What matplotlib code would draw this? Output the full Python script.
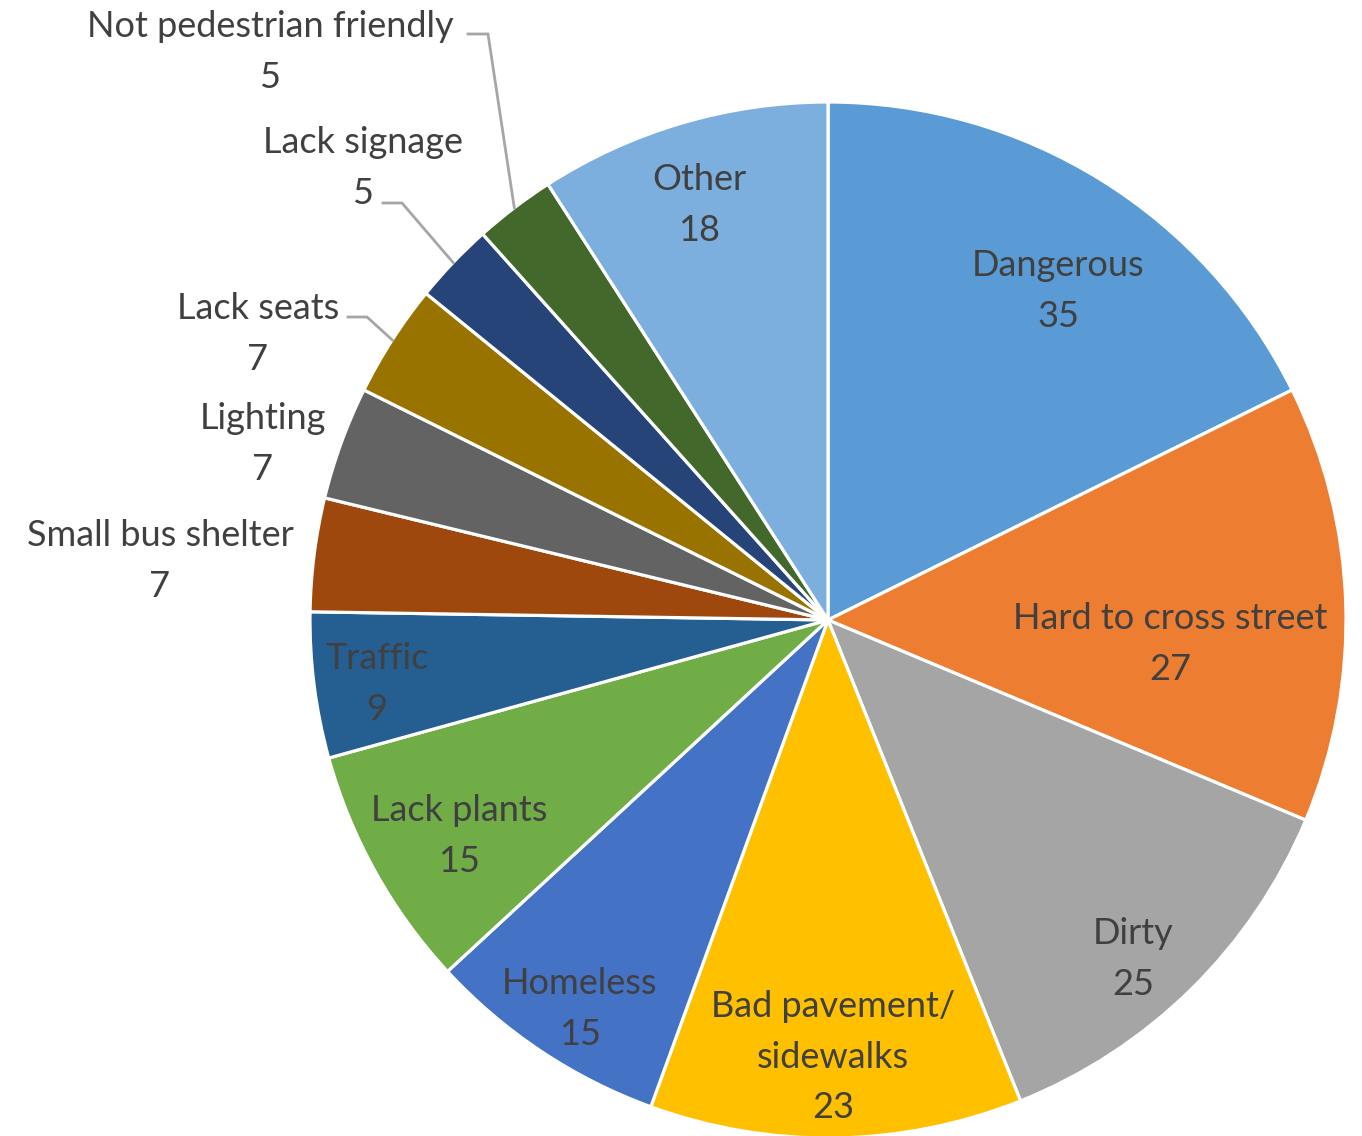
"""Pie chart: pedestrian / bus stop complaints, Excel-like style."""

import matplotlib

matplotlib.use("Agg")
import matplotlib.pyplot as plt
import numpy as np

# data (clockwise from 12 o'clock)
categories = [
    "Dangerous", "Hard to cross street", "Dirty", "Bad pavement/\nsidewalks",
    "Homeless", "Lack plants", "Traffic", "Small bus shelter", "Lighting",
    "Lack seats", "Lack signage", "Not pedestrian friendly", "Other",
]
counts = [35, 27, 25, 23, 15, 15, 9, 7, 7, 7, 5, 5, 18]

colors = [
    "#5B9BD5", "#ED7D31", "#A5A5A5", "#FFC000", "#4472C4", "#70AD47",
    "#255E91", "#9E480E", "#636363", "#997300", "#264478", "#43682B",
    "#7CAFDD",
]

# layout in pixels of the 1362x1136 canvas
W, H = 1362, 1136
CX, CY, R = 828, 620, 518
label_px = [
    (1058, 291), (1170, 644), (1133, 959), (833, 1057), (580, 1009),
    (459, 836), (377, 684), (160, 561), (263, 444), (258, 334),
    (363, 168), (270, 52), (699, 205),
]
# leader lines: index -> (start, corner) in pixels, end is the slice's outer edge
leaders = {
    9: ((348, 317), (367, 317)),
    10: ((383, 203), (402, 203)),
    11: ((468, 34), (488, 34)),
}


def to_data(px, py):
    return (px - CX) / R, (CY - py) / R


fig = plt.figure(figsize=(W / 100, H / 100), dpi=100)
ax = fig.add_axes([0, 0, 1, 1])

wedges, _ = ax.pie(
    counts, colors=colors, startangle=90, counterclock=False, radius=1.0,
    center=(0, 0), wedgeprops=dict(edgecolor="white", linewidth=2.3),
    frame=True,
)
ax.set_xlim(-CX / R, (W - CX) / R)
ax.set_ylim(-(H - CY) / R, CY / R)
ax.set_aspect("equal")
ax.axis("off")

for i, (name, n) in enumerate(zip(categories, counts)):
    x, y = to_data(*label_px[i])
    ax.text(x, y, f"{name}\n{n}", ha="center", va="center", fontsize=26,
            family="Lato", color="#404040", linespacing=1.65)
    if i in leaders:
        w = wedges[i]
        mid = np.deg2rad((w.theta1 + w.theta2) / 2)
        (sx, sy), (kx, ky) = leaders[i]
        p0, p1 = to_data(sx, sy), to_data(kx, ky)
        ax.plot([p0[0], p1[0], np.cos(mid)], [p0[1], p1[1], np.sin(mid)],
                color="#A6A6A6", lw=2.0, solid_joinstyle="miter")

fig.savefig("out.png", dpi=100)
